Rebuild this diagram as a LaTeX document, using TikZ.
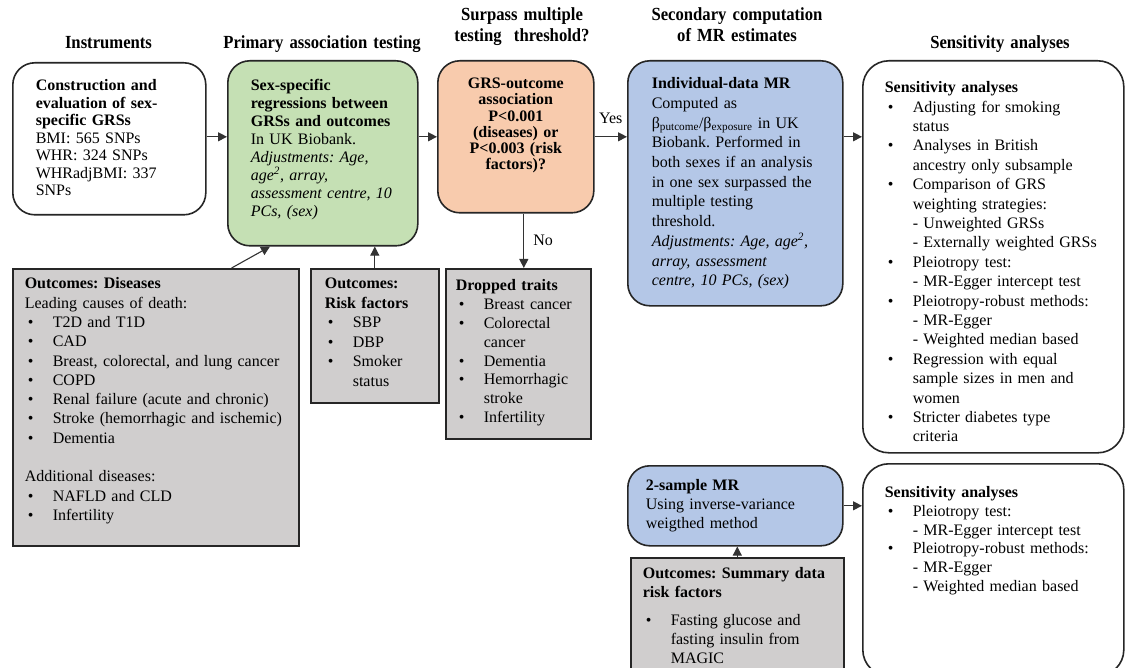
\documentclass[tikz,border=0pt]{standalone}
\usepackage{fontspec}
\setmainfont{Liberation Serif}
\newfontfamily\headfont[FakeStretch=0.9]{Liberation Serif}
\usetikzlibrary{arrows.meta,positioning}
\frenchspacing

\definecolor{boxgreen}{RGB}{197,224,180}
\definecolor{boxorange}{RGB}{248,203,173}
\definecolor{boxblue}{RGB}{180,199,231}
\definecolor{boxgray}{RGB}{208,206,206}

\newcommand{\bul}{\makebox[28pt][l]{\hspace{3pt}\textbullet}}
\newcommand{\ind}{\hspace*{28pt}}

\tikzset{
    % Colors
    green box/.style={fill=boxgreen},
    orange box/.style={fill=boxorange},
    blue box/.style={fill=boxblue},
    %
    % Boxes
    box/.style={draw=black!85,line width=1.6pt,anchor=north west,inner ysep=0pt,align=left},
    panel/.style={box,rounded corners=22pt},
    outcome/.style={box,fill=boxgray},
    linespace/.style={font=\fontsize{16}{#1}\selectfont},
    heading/.style={font=\headfont\bfseries\fontsize{18.5}{21}\selectfont,text width=240pt,align=center,anchor=base,inner sep=0pt},
    answer/.style={font=\fontsize{16}{18}\selectfont,inner sep=0pt},
    %
    % Arrows
    arrow tip/.tip={Triangle[length=9pt,width=9pt]},
    arr/.style={->,>={arrow tip},line width=1.1pt,draw=black!80}
}

\begin{document}
\begin{tikzpicture}[x=1pt,y=-1pt]
    \clip (0,0) rectangle (1129,668);
    \fill[white] (0,0) rectangle (1129,668);

    % column headings
    \node[heading] (hinst) at (108.5,49) {Instruments};
    \node[heading] (hprim) at (322,49) {Primary association testing};
    \node[heading] (hthr) at (522,21) {Surpass multiple\\testing~ threshold?};
    \node[heading] (hsec) at (737,21) {Secondary computation\\of MR estimates};
    \node[heading] (hsens) at (1000,49) {Sensitivity analyses};

    % upper row
    \node[panel,linespace=17.5,inner xsep=23pt,text width=147pt,text height=28pt,text depth=124pt] (inst) at (12,62)
        {\textbf{Construction and}\\\textbf{evaluation of sex-}\\\textbf{specific GRSs}\\BMI: 565 SNPs\\WHR: 324 SNPs\\WHRadjBMI: 337\\SNPs};
    \node[panel,green box,linespace=18,inner xsep=23pt,text width=144pt,text height=30pt,text depth=155pt] (prim) at (227,60)
        {\textbf{Sex-specific}\\\textbf{regressions between}\\\textbf{GRSs and outcomes}\\In UK Biobank.\\\textit{Adjustments: Age,}\\\textit{age\textsuperscript{2}, array,}\\\textit{assessment centre, 10}\\\textit{PCs, (sex)}};
    \node[panel,orange box,linespace=16.2,align=center,inner xsep=8pt,text width=140pt,text height=28pt,text depth=124pt] (thr) at (437,60)
        {\bfseries GRS-outcome\\association\\P<0.001\\(diseases) or\\P<0.003 (risk\\factors)?};
    \node[panel,blue box,linespace=19.7,inner xsep=24pt,text width=167pt,text height=28pt,text depth=217pt] (indiv) at (627,60)
        {\textbf{Individual-data MR}\\Computed as\\β\textsubscript{putcome}/β\textsubscript{exposure} in UK\\Biobank. Performed in\\both sexes if an analysis\\in one sex surpassed the\\multiple testing\\threshold.\\\textit{Adjustments: Age, age\textsuperscript{2},}\\\textit{array, assessment}\\\textit{centre, 10 PCs, (sex)}};
    \node[panel,rounded corners=26pt,linespace=19.4,inner xsep=22pt,text width=217pt,text height=32pt,text depth=360pt] (sens) at (862,60)
        {\textbf{Sensitivity analyses}\\
         \bul Adjusting for smoking\\\ind status\\
         \bul Analyses in British\\\ind ancestry only subsample\\
         \bul Comparison of GRS\\\ind weighting strategies:\\\ind - Unweighted GRSs\\\ind - Externally weighted GRSs\\
         \bul Pleiotropy test:\\\ind - MR-Egger intercept test\\
         \bul Pleiotropy-robust methods:\\\ind - MR-Egger\\\ind - Weighted median based\\
         \bul Regression with equal\\\ind sample sizes in men and\\\ind women\\
         \bul Stricter diabetes type\\\ind criteria};

    % outcome boxes
    \node[outcome,linespace=19.3,inner xsep=12pt,text width=262pt,text height=20pt,text depth=257pt] (dis) at (12,268)
        {\textbf{Outcomes: Diseases}\\Leading causes of death:\\
         \bul T2D and T1D\\\bul CAD\\\bul Breast, colorectal, and lung cancer\\\bul COPD\\
         \bul Renal failure (acute and chronic)\\\bul Stroke (hemorrhagic and ischemic)\\\bul Dementia\\[19.3pt]
         Additional diseases:\\\bul NAFLD and CLD\\\bul Infertility};
    \node[outcome,linespace=19.5,inner xsep=14pt,text width=100pt,text height=20pt,text depth=114pt] (risk) at (310,268)
        {\textbf{Outcomes:}\\\textbf{Risk factors}\\\bul SBP\\\bul DBP\\\bul Smoker\\\ind status};
    \node[outcome,linespace=18.8,inner xsep=10pt,text width=125pt,text height=22pt,text depth=148pt] (drop) at (445,268)
        {\textbf{Dropped traits}\\\bul Breast cancer\\\bul Colorectal\\\ind cancer\\\bul Dementia\\\bul Hemorrhagic\\\ind stroke\\\bul Infertility};

    % lower row
    \node[panel,blue box,linespace=19,inner xsep=18pt,text width=179pt,text height=25pt,text depth=55pt] (two) at (627,465)
        {\textbf{2-sample MR}\\Using inverse-variance\\weigthed method};
    \node[outcome,linespace=19,inner xsep=12pt,text width=189pt,text height=21pt,text depth=122pt] (summ) at (630,557)
        {\textbf{Outcomes: Summary data}\\\textbf{risk factors}\\[9pt]\bul Fasting glucose and\\\ind fasting insulin from\\\ind MAGIC};
    \node[panel,rounded corners=26pt,linespace=18.7,inner xsep=22pt,text width=217pt,text height=34pt,text depth=178pt] (senstwo) at (862,463)
        {\textbf{Sensitivity analyses}\\
         \bul Pleiotropy test:\\\ind - MR-Egger intercept test\\
         \bul Pleiotropy-robust methods:\\\ind - MR-Egger\\\ind - Weighted median based};

    % connectors
    \draw[arr] (inst.east |- thr.west) -- (prim.west |- thr.west);
    \draw[arr] (prim.east |- thr.west) -- (thr.west);
    \draw[arr] (thr.east) -- (thr.east -| indiv.west) node[answer,midway,above=13pt] (yes) {Yes};
    \draw[arr] (indiv.east |- thr.east) -- (sens.west |- thr.east);
    \draw[arr] ([xshift=8pt]thr.south) -- ([xshift=8pt]thr.south |- drop.north) node[answer,midway,right=9pt] (no) {No};
    \draw[arr] ([xshift=-68pt]dis.north east) -- ([xshift=43pt]prim.south west);
    \draw[arr] (risk.north) -- (risk.north |- prim.south);
    \draw[arr] (two.east) -- (two.east -| senstwo.west);
    \draw[arr] (summ.north) -- (summ.north |- two.south);
\end{tikzpicture}
\end{document}
